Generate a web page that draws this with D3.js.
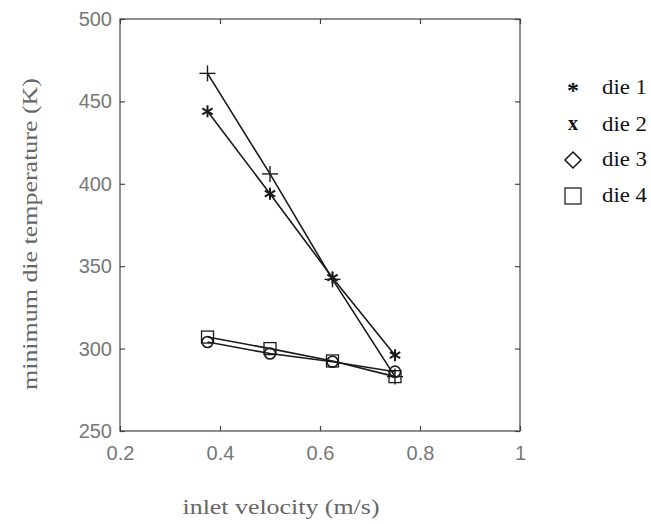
<!DOCTYPE html>
<html><head><meta charset="utf-8">
<script src="https://cdn.jsdelivr.net/npm/d3@7"></script>
<style>body{margin:0;background:#fff}svg{display:block}</style>
</head><body>
<script>
const velocities = [0.375, 0.5, 0.625, 0.75];
const die1 = [444, 394, 343, 296];
const die2 = [467, 406, 342, 283];
const die3 = [304, 297, 292, 286];
const die4 = [307, 300, 292.5, 283];
const seriesNames = ["die 1", "die 2", "die 3", "die 4"];
const xTicks = [0.2, 0.4, 0.6, 0.8, 1];
const yTicks = [250, 300, 350, 400, 450, 500];

const W = 651, H = 524;
const m = {l:120, r:131, t:19, b:93};
const svg = d3.select("body").append("svg").attr("width", W).attr("height", H);
const x = d3.scaleLinear().domain([0.2, 1]).range([m.l, W - m.r]);
const y = d3.scaleLinear().domain([250, 500]).range([H - m.b, m.t]);
const ink = "#1a1a1a", grey = "#777";
const serif = "'Liberation Serif', 'Times New Roman', Times, serif";
const sans = "'Liberation Sans', Arial, Helvetica, sans-serif";

// frame
svg.append("rect").attr("x", x(0.2)).attr("y", y(500)).attr("width", x(1)-x(0.2)).attr("height", y(250)-y(500))
  .attr("fill","none").attr("stroke","#444").attr("stroke-width",1.2);

const tick = 5;
const gx = svg.append("g").attr("transform",`translate(0,${y(250)})`)
  .call(d3.axisBottom(x).tickValues(xTicks).tickSize(-tick).tickPadding(10).tickFormat(d => d3.format("")(d)));
const gxt = svg.append("g").attr("transform",`translate(0,${y(500)})`)
  .call(d3.axisTop(x).tickValues(xTicks).tickSize(-tick).tickFormat(""));
const gy = svg.append("g").attr("transform",`translate(${x(0.2)},0)`)
  .call(d3.axisLeft(y).tickValues(yTicks).tickSize(-tick).tickPadding(8));
const gyr = svg.append("g").attr("transform",`translate(${x(1)},0)`)
  .call(d3.axisRight(y).tickValues(yTicks).tickSize(-tick).tickFormat(""));
[gx,gxt,gy,gyr].forEach(g => {
  g.select(".domain").remove();
  g.selectAll("line").attr("stroke","#444").attr("stroke-width",1.2);
  g.selectAll("text").attr("fill", grey).attr("font-family", sans).attr("font-size",20);
});
gx.selectAll("text").attr("dy","0.95em");

// axis labels
svg.append("text").attr("x", 281).attr("y", 514).attr("text-anchor","middle")
  .attr("font-family", serif).attr("font-size",21).attr("fill","#666")
  .attr("textLength",197).attr("lengthAdjust","spacingAndGlyphs").text("inlet velocity (m/s)");
svg.append("text").attr("transform","translate(37,234) rotate(-90)").attr("text-anchor","middle")
  .attr("font-family", serif).attr("font-size",21).attr("fill","#666")
  .attr("textLength",312).attr("lengthAdjust","spacingAndGlyphs").text("minimum die temperature (K)");

const series = [die1, die2, die3, die4];
const line = d3.line().x((d,i) => x(velocities[i])).y(d => y(d));
series.forEach(s => {
  svg.append("path").datum(s).attr("d", line).attr("fill","none").attr("stroke", ink).attr("stroke-width",1.6);
});

function marker(g, type, cx, cy, sz) {
  if (type === 0) { // asterisk
    const r = sz/2;
    for (let k=0;k<3;k++) {
      const a = Math.PI/2 + k*Math.PI/3;
      g.append("line").attr("x1", cx - r*Math.cos(a)).attr("y1", cy - r*Math.sin(a))
        .attr("x2", cx + r*Math.cos(a)).attr("y2", cy + r*Math.sin(a)).attr("stroke", ink).attr("stroke-width",2);
    }
  } else if (type === 1) { // plus
    const r = sz/2;
    g.append("line").attr("x1",cx-r).attr("x2",cx+r).attr("y1",cy).attr("y2",cy).attr("stroke",ink).attr("stroke-width",1.4);
    g.append("line").attr("x1",cx).attr("x2",cx).attr("y1",cy-r).attr("y2",cy+r).attr("stroke",ink).attr("stroke-width",1.4);
  } else if (type === 2) { // circle
    g.append("circle").attr("cx",cx).attr("cy",cy).attr("r",sz/2).attr("fill","none").attr("stroke",ink).attr("stroke-width",1.6);
  } else { // square
    g.append("rect").attr("x",cx-sz/2).attr("y",cy-sz/2).attr("width",sz).attr("height",sz)
      .attr("fill","none").attr("stroke",ink).attr("stroke-width",1.3);
  }
}
const msz = [12, 16, 11, 12];
const mg = svg.append("g");
series.forEach((s, k) => s.forEach((v, i) => marker(mg, k, x(velocities[i]), y(v), msz[k])));

// legend
const lg = svg.append("g");
const rows = [88, 125, 160, 196];
lg.append("text").attr("x",573).attr("y",rows[0]+10).attr("text-anchor","middle").attr("font-family",serif)
  .attr("font-size",24).attr("font-weight","bold").attr("fill","#111").text("*");
lg.append("text").attr("x",573).attr("y",rows[1]+5).attr("text-anchor","middle").attr("font-family",serif)
  .attr("font-size",20).attr("font-weight","bold").attr("fill","#111").text("x");
lg.append("path").attr("d",`M573,${rows[2]-8}L581,${rows[2]}L573,${rows[2]+8}L565,${rows[2]}Z`)
  .attr("fill","none").attr("stroke","#111").attr("stroke-width",1.5);
lg.append("rect").attr("x",565).attr("y",rows[3]-8).attr("width",16).attr("height",16)
  .attr("fill","none").attr("stroke","#222").attr("stroke-width",1.3);
seriesNames.forEach((n,i) => {
  lg.append("text").attr("x",602).attr("y",rows[i]+6).attr("font-family",serif).attr("font-size",21)
    .attr("fill","#111").attr("textLength",45).attr("lengthAdjust","spacingAndGlyphs").text(n);
});
</script>
</body></html>
